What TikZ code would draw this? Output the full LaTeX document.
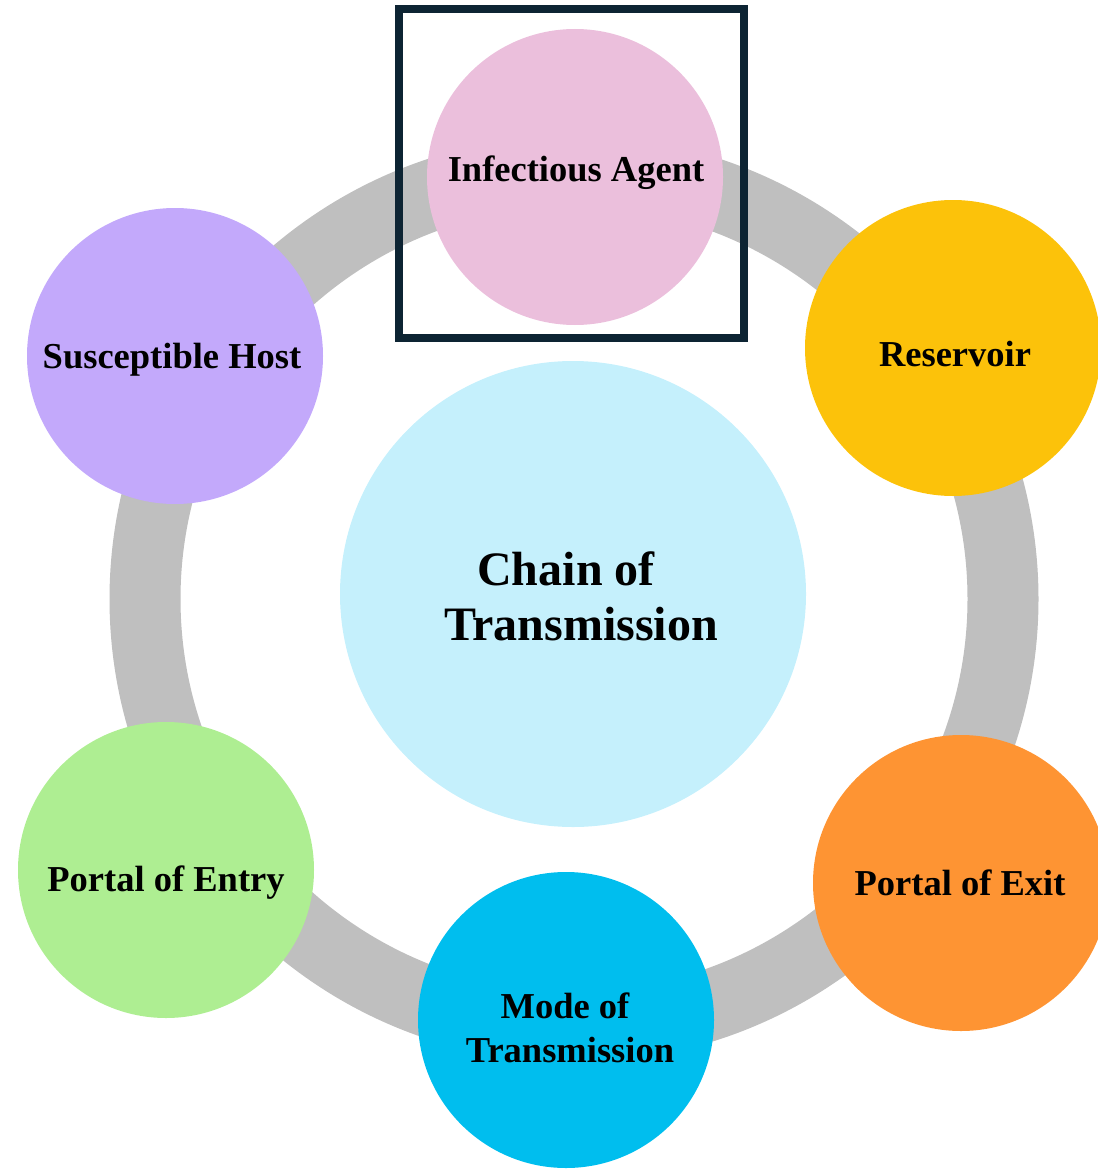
\documentclass[tikz,border=0pt]{standalone}
\usepackage{fontspec}
\setmainfont{Liberation Serif}
\definecolor{ringgrey}{HTML}{BFBFBF}
\definecolor{cpink}{HTML}{EBBFDC}
\definecolor{cyellow}{HTML}{FCC20A}
\definecolor{corange}{HTML}{FE9433}
\definecolor{cblue}{HTML}{00BEEE}
\definecolor{cgreen}{HTML}{AEEE92}
\definecolor{cpurple}{HTML}{C3A9FB}
\definecolor{ccenter}{HTML}{C5F0FC}
\definecolor{framecol}{HTML}{0D2433}
\begin{document}
\begin{tikzpicture}[x=1pt,y=-1pt,
  stage/.style={circle,draw=none,inner sep=0pt,minimum size=296pt},
  lbl/.style={anchor=base,font=\bfseries\fontsize{36.5}{44}\selectfont,inner sep=0pt,align=center},
  biglbl/.style={anchor=base,font=\bfseries\fontsize{48}{55}\selectfont,inner sep=0pt}]
\useasboundingbox (0,0) rectangle (1097,1169);
% ring
\draw[ringgrey,line width=71pt] (574,599) ellipse [x radius=429pt,y radius=428pt];
% centre
\node[circle,draw=none,inner sep=0pt,minimum size=466pt,fill=ccenter] (centre) at (573,594) {};
\node[biglbl] (c1) at (566,585) {Chain of};
\node[biglbl] (c2) at (581,640) {Transmission};
% stages
\node[stage,fill=cpink] (agent) at (575,177) {};
\node[stage,fill=cyellow] (reservoir) at (953,348) {};
\node[stage,fill=corange] (exit) at (961,883) {};
\node[stage,fill=cblue] (mode) at (566,1020) {};
\node[stage,fill=cgreen] (entry) at (166,870) {};
\node[stage,fill=cpurple] (host) at (175,356) {};
\node[lbl] (tagent) at (576,182) {Infectious Agent};
\node[lbl] (treservoir) at (955,366) {Reservoir};
\node[lbl] (texit) at (960,895) {Portal of Exit};
\node[lbl] (tmode1) at (565,1018) {Mode of};
\node[lbl] (tmode2) at (570,1062) {Transmission};
\node[lbl] (tentry) at (166,891) {Portal of Entry};
\node[lbl] (thost) at (172,368) {Susceptible Host};
% frame
\node[draw=framecol,line width=8pt,inner sep=0pt,minimum width=345pt,minimum height=329pt] (frame) at (571.5,173.5) {};
\end{tikzpicture}
\end{document}
